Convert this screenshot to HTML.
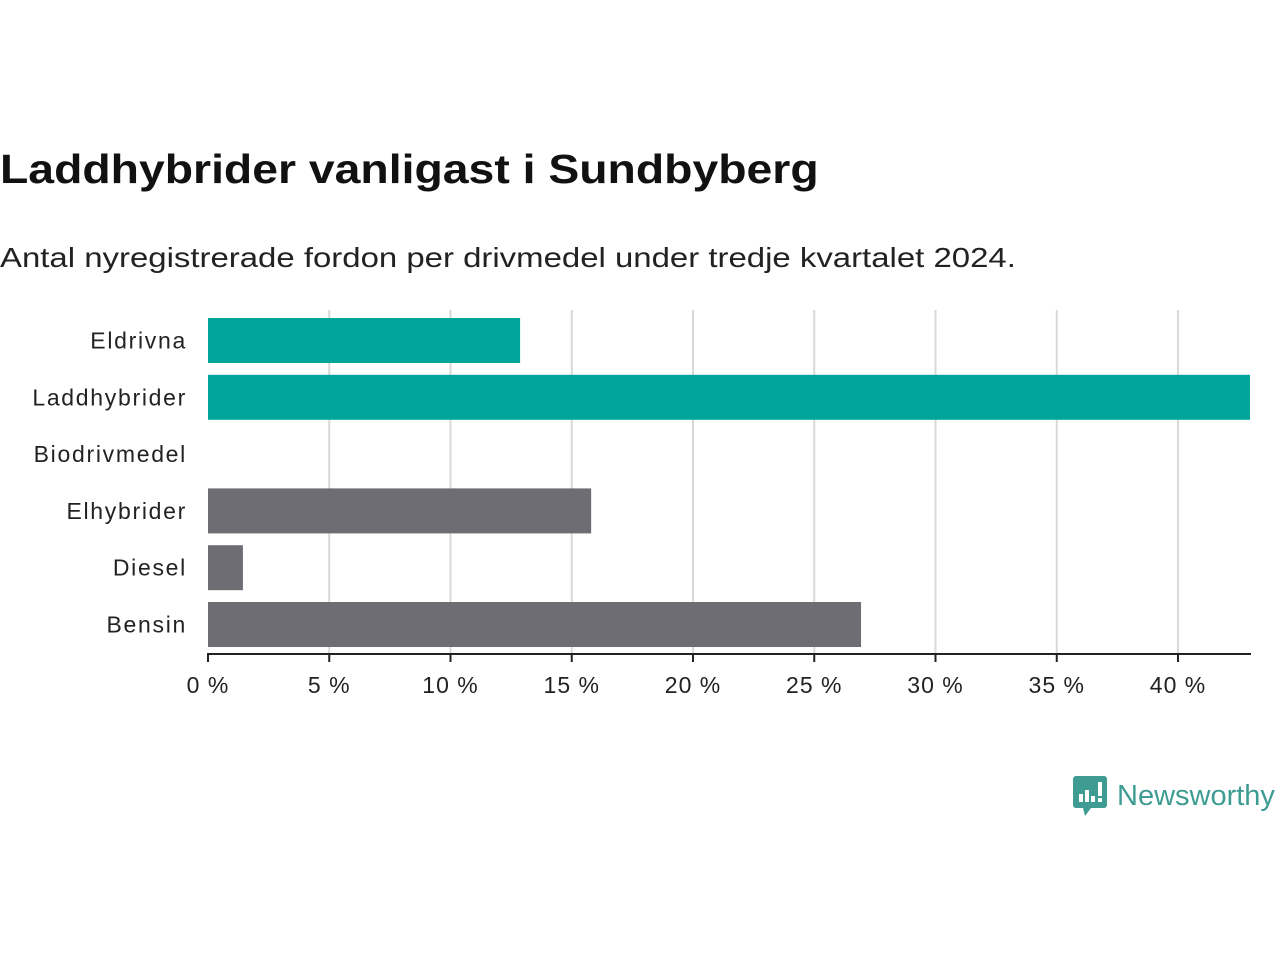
<!DOCTYPE html>
<html><head><meta charset="utf-8"><style>
body{margin:0;width:1280px;height:960px;background:#fff;font-family:"Liberation Sans",sans-serif;overflow:hidden;position:relative}
h1{position:absolute;left:0;top:146px;margin:0;font-size:41px;font-weight:bold;color:#111;transform:scaleX(1.13);transform-origin:left top;white-space:nowrap}
.sub{position:absolute;left:0;top:242px;font-size:28px;color:#222;transform:scaleX(1.176);transform-origin:left top;white-space:nowrap}
</style></head><body>
<h1>Laddhybrider vanligast i Sundbyberg</h1>
<div class="sub">Antal nyregistrerade fordon per drivmedel under tredje kvartalet 2024.</div>
<svg id="chart" width="1280" height="960" style="position:absolute;left:0;top:0"></svg>
<div style="position:absolute;left:1073px;top:776px;display:flex;align-items:center">
<svg width="34" height="40" viewBox="0 0 34 40"><rect x="0" y="0" width="34" height="32" rx="3" fill="#3f9c93"/><polygon points="10,32 18,32 12,40" fill="#3f9c93"/><rect x="6" y="18" width="4" height="8" fill="#fff"/><rect x="12" y="14" width="4" height="12" fill="#fff"/><rect x="18" y="20" width="4" height="6" fill="#fff"/><rect x="25" y="6" width="4" height="14" fill="#fff"/><rect x="25" y="22" width="4" height="4" fill="#fff"/></svg>
<span style="margin-left:10px;font-size:29px;color:#3f9c93;font-weight:500">Newsworthy</span></div>
<script>
const categories=["Eldrivna","Laddhybrider","Biodrivmedel","Elhybrider","Diesel","Bensin"];
const values=[12.87,42.97,0,15.8,1.44,26.93];
const colors=["#00a59a","#00a59a","#6e6d73","#6e6d73","#6e6d73","#6e6d73"];
const ticks=[0,5,10,15,20,25,30,35,40];
const tickLabels=["0 %","5 %","10 %","15 %","20 %","25 %","30 %","35 %","40 %"];
const NS="http://www.w3.org/2000/svg";
const svg=document.getElementById('chart');
const x0=208,pxPer=24.25,top0=312,step=56.8,bh=45;
const xs=v=>x0+v*pxPer;
const yb=i=>top0+6+i*step;
function mk(t,a){const e=document.createElementNS(NS,t);for(const k in a)e.setAttribute(k,a[k]);svg.appendChild(e);return e;}
ticks.forEach((t,i)=>{
 if(t>0){const g=mk('line',{x1:xs(t),x2:xs(t),y1:310,y2:654,stroke:'#d9d9d9','stroke-width':2});
 
 }
 const tk=mk('line',{x1:xs(t),x2:xs(t),y1:654,y2:662,stroke:'#222','stroke-width':2});
 
 
 const l=mk('text',{x:xs(t),y:693,'text-anchor':'middle','font-size':23,fill:'#222','letter-spacing':'1px','font-family':'Liberation Sans, sans-serif'});
 l.textContent=tickLabels[i];
 
 
});
categories.forEach((c,i)=>{
 if(values[i]>0){const r=mk('rect',{x:x0,y:yb(i),width:xs(values[i])-x0,height:bh,fill:colors[i]});
 
 }
 const l=mk('text',{x:187,y:yb(i)+bh/2+8,'text-anchor':'end','font-size':23,fill:'#222','letter-spacing':'1.7px','font-family':'Liberation Sans, sans-serif'});
 l.textContent=c;
 
 
});
const ax=mk('line',{x1:207,x2:1251,y1:654,y2:654,stroke:'#222','stroke-width':2});


</script>
</body></html>
